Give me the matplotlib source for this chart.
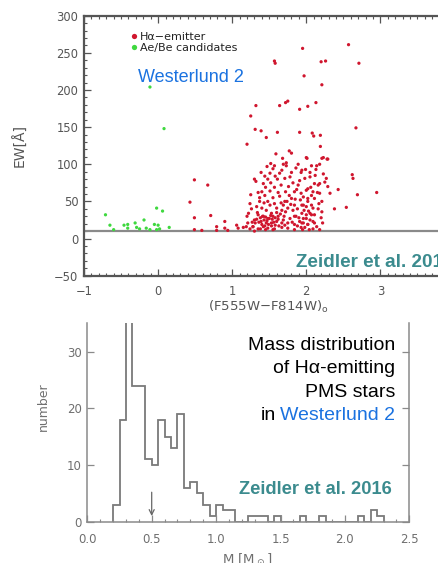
import numpy as np
import matplotlib
matplotlib.use("Agg")
import matplotlib.pyplot as plt
from matplotlib.lines import Line2D

# ---------------- data ----------------
# H-alpha emitters: colour (F555W-F814W)_0 and equivalent width [A]
ha_color = [
    2.57, 1.95, 2.71, 1.57, 1.58, 2.20, 2.26, 1.97, 2.21, 1.75, 1.72, 1.64, 1.91, 2.02, 2.13,
    1.32, 1.25, 2.67, 1.31, 1.39, 1.46, 1.61, 1.91, 2.08, 2.10, 2.19, 1.20, 2.19, 1.77, 1.80,
    1.59, 2.01, 2.21, 2.29,
    0.49, 0.67, 0.43, 0.49, 0.71, 0.49, 0.59, 0.79, 0.90, 0.79, 0.90, 0.94, 1.06, 1.08, 1.15,
    1.19, 1.24, 1.28, 1.30, 1.21, 1.20, 1.22, 1.24, 1.25, 1.30, 1.32, 1.39, 1.44, 1.51, 1.55,
    2.95, 2.69, 2.62, 2.63, 2.43, 2.54, 2.38,
    1.42, 1.45, 1.40, 1.44, 1.51, 1.57, 1.66, 1.71, 1.78, 1.67, 1.73, 1.80, 1.57, 1.69, 1.89,
    1.93, 1.98, 2.05, 1.89, 1.84, 1.93, 2.02, 2.07, 1.80, 1.71, 1.57, 1.48, 1.37, 1.33, 1.40,
    1.46, 1.53, 1.60, 1.67, 1.75, 1.84, 1.96, 2.02, 1.35, 1.42, 1.48, 1.55, 1.62, 1.69, 1.78,
    1.84, 1.91, 2.00, 2.07, 1.30, 1.39, 1.46, 1.53, 1.60, 1.67, 1.75, 1.84, 1.96, 2.02, 1.28,
    1.35, 1.42, 1.48, 1.57, 1.67, 1.75, 1.84, 1.93,
    2.00, 2.23, 2.28, 2.07, 2.14, 2.18, 1.94, 2.05, 2.23, 2.27, 2.25, 2.11, 2.16, 2.18, 2.29,
    2.00, 2.09, 2.18, 2.32, 1.96, 2.02, 2.11, 2.21, 2.21, 1.94, 2.00, 2.07, 2.09, 1.94, 2.00,
    2.05, 2.11, 1.96, 2.05, 2.09, 1.94, 2.02, 2.11, 2.09, 2.18, 1.98,
    1.38, 1.41, 1.43, 1.45, 1.47, 1.50, 1.52, 1.54, 1.56, 1.58, 1.36, 1.40, 1.44, 1.49, 1.53,
    1.58, 1.62, 1.65, 1.63, 1.70, 1.72, 1.69, 1.74, 1.77, 1.79, 1.82, 1.86, 1.88, 1.85, 1.87,
    1.82, 1.76, 1.72, 1.64, 1.61, 1.58, 1.52, 1.48, 1.35, 1.34, 1.33, 1.31, 1.27, 1.26, 1.37,
    1.43, 1.51, 1.55, 1.62, 1.66, 1.92, 1.97, 2.03, 2.06, 2.12, 2.15, 2.17, 2.20, 2.14, 2.22,
    2.16, 1.90, 1.81, 1.88, 1.71, 1.95, 2.04, 1.55, 1.45, 1.38, 1.60, 1.64, 1.91, 1.99, 2.13,
    1.86, 1.68, 1.73, 1.52, 1.47,
]
ha_ew = [
    261, 256, 236, 239, 236, 238, 239, 219, 207, 185, 183, 179, 174, 178, 183,
    179, 165, 149, 147, 145, 136, 143, 143, 142, 138, 139, 127, 124, 118, 115,
    114, 108, 108, 107,
    79, 72, 49, 28, 31, 12, 11, 16, 23, 11, 14, 11, 18, 14, 15,
    16, 13, 16, 10, 21, 30, 34, 47, 59, 80, 77, 89, 84, 88, 94,
    62, 59, 86, 81, 66, 42, 40,
    74, 69, 63, 58, 64, 69, 72, 81, 83, 92, 98, 89, 98, 100, 100,
    89, 81, 83, 72, 63, 61, 67, 58, 54, 50, 47, 50, 50, 43, 41,
    38, 34, 41, 38, 41, 45, 45, 50, 32, 30, 27, 30, 30, 25, 27,
    30, 23, 27, 32, 25, 23, 21, 21, 23, 21, 21, 19, 21, 19, 16,
    13, 16, 14, 13, 15, 14, 12, 15,
    109, 109, 107, 98, 98, 100, 92, 89, 87, 81, 76, 74, 72, 74, 70,
    65, 63, 61, 61, 56, 54, 54, 50, 36, 45, 43, 45, 41, 34, 32,
    34, 32, 27, 25, 23, 21, 19, 21, 13, 12, 15,
    28, 30, 25, 29, 24, 27, 31, 26, 22, 28, 22, 19, 17, 19, 17,
    18, 26, 33, 17, 30, 36, 45, 50, 58, 46, 38, 30, 40, 53, 66,
    75, 70, 63, 57, 80, 84, 75, 80, 62, 35, 26, 21, 22, 40, 55,
    48, 45, 55, 62, 48, 52, 38, 37, 69, 85, 62, 47, 28, 16, 21,
    40, 28, 22, 17, 18, 12, 12, 12, 12, 13, 35, 88, 78, 93, 93,
    95, 108, 102, 101, 97,
]

# Ae/Be candidates
aebe_color = [-0.71, -0.65, -0.60, -0.46, -0.41, -0.41, -0.31, -0.29, -0.25, -0.19, -0.16,
              -0.11, -0.05, -0.02, 0.00, 0.02, -0.02, 0.06, 0.15, -0.11, 0.08]
aebe_ew = [32, 18, 12, 18, 19, 14, 21, 15, 13, 25, 14,
           12, 19, 12, 18, 13, 41, 37, 15, 204, 148]

ew_threshold = 10

# Mass histogram of H-alpha emitting PMS stars (bin width 0.05 Msun from 0.20)
mass_bin_start = 0.20
mass_bin_width = 0.05
mass_counts = [3, 18, 40, 24, 24, 11, 10, 18, 15, 13, 19, 6, 7, 5, 3, 1, 3, 2, 2, 0, 0,
               1, 1, 1, 0, 1, 0, 0, 0, 1, 0, 0, 1, 0, 0, 0, 0, 0, 1, 0, 2, 1]
mass_marker = 0.5

# ---------------- figure ----------------
W, H = 438, 563
fig = plt.figure(figsize=(W / 100, H / 100), dpi=100)
fig.patch.set_facecolor("white")

def fx(px):
    return px / W

def fy(py):
    return 1 - py / H

BLUE = "#1a72e0"
TEAL = "#3b8b8e"
SANS = "Liberation Sans"

# ---- upper panel: EW vs colour ----
ax1 = fig.add_axes([fx(84), fy(275.7), 370.5 / W, 260 / H])
ax1.scatter(ha_color, ha_ew, s=5.5, color="#d0162e", edgecolors="none", zorder=3)
ax1.scatter(aebe_color, aebe_ew, s=5.5, color="#3fd83f", edgecolors="none", zorder=3)
ax1.axhline(ew_threshold, color="#8a8a8a", lw=1.6, zorder=2)
ax1.set_xlim(-1, 4)
ax1.set_ylim(-50, 300)
ax1.set_xticks([-1, 0, 1, 2, 3])
ax1.set_yticks(np.arange(-50, 301, 50))
ax1.set_xticks(np.arange(-1, 4.01, 0.1), minor=True)
ax1.set_yticks(np.arange(-50, 301, 10), minor=True)
ax1.set_xticklabels(["\u22121", "0", "1", "2", "3"])
ax1.set_yticklabels(["\u221250", "0", "50", "100", "150", "200", "250", "300"])
for sp in ax1.spines.values():
    sp.set_color("#555555")
    sp.set_linewidth(1.6)
ax1.tick_params(which="both", direction="in", top=True, right=True,
                color="#555555", labelcolor="#555555", labelsize=8.3)
ax1.tick_params(which="major", length=5, width=0.9)
ax1.tick_params(which="minor", length=2.5, width=0.8)
ax1.tick_params(axis="x", pad=7)
ax1.tick_params(axis="y", pad=4)
ax1.set_ylabel("EW[\u00c5]", fontsize=10, color="#555555")
ax1.yaxis.set_label_coords((27 - 84) / 370.5, 0.5)
ax1.set_xlabel(r"(F555W$-$F814W)$_\mathrm{o}$", fontsize=9.5, color="#555555")
ax1.xaxis.set_label_coords((268 - 84) / 370.5, (275.7 - 306.5) / 260)
ax1.xaxis.label.set_va("center")

handles = [Line2D([], [], ls="none", marker="o", ms=3.8, color="#d0162e", mec="none"),
           Line2D([], [], ls="none", marker="o", ms=3.8, color="#3fd83f", mec="none")]
ax1.legend(handles, ["H\u03b1\u2212emitter", "Ae/Be candidates"], loc="upper left",
           bbox_to_anchor=((131 - 84) / 370.5, (275.7 - 31.5) / 260), frameon=False,
           borderpad=0, borderaxespad=0, handlelength=0.5, handletextpad=0.3,
           labelspacing=0.15, prop={"size": 8}, labelcolor="#222222")

fig.text(fx(138), fy(81.7), "Westerlund 2", color=BLUE, fontsize=13, family=SANS,
         ha="left", va="baseline")
fig.text(fx(295.7), fy(266.7), "Zeidler et al. 2016", color=TEAL, fontsize=13.6,
         family=SANS, weight="bold", ha="left", va="baseline")

# ---- lower panel: mass histogram ----
edges = mass_bin_start + mass_bin_width * np.arange(len(mass_counts) + 1)
ax2 = fig.add_axes([fx(87.3), fy(521.7), 322 / W, 198.4 / H])
ax2.stairs(mass_counts, edges, baseline=0, color="#7a7a7a", lw=1.3)
ax2.annotate("", xy=(mass_marker, 1), xytext=(mass_marker, 5.2),
             arrowprops=dict(arrowstyle="->", color="#666666", lw=0.9,
                             shrinkA=0, shrinkB=0, mutation_scale=9))
ax2.set_xlim(0, 2.5)
ax2.set_ylim(0, 35)
ax2.set_xticks(np.arange(0, 2.51, 0.5))
ax2.set_xticks(np.arange(0, 2.51, 0.1), minor=True)
ax2.set_yticks([0, 10, 20, 30])
ax2.spines["top"].set_visible(False)
for name in ("left", "right", "bottom"):
    ax2.spines[name].set_color("#8a8a8a")
    ax2.spines[name].set_linewidth(1.1)
ax2.tick_params(which="both", direction="in", right=True, color="#8a8a8a",
                labelcolor="#6f6f6f", labelsize=8.5)
ax2.tick_params(which="major", length=5, width=0.9)
ax2.tick_params(which="minor", length=2.5, width=0.8)
ax2.tick_params(axis="x", pad=8)
ax2.tick_params(axis="y", pad=4)
ax2.set_ylabel("number", fontsize=9, color="#6f6f6f")
ax2.yaxis.set_label_coords((50 - 87.3) / 322, (521.7 - 406.7) / 198.4)
ax2.set_xlabel(r"M [M$_\odot$]", fontsize=9.5, color="#6f6f6f")
ax2.xaxis.set_label_coords((247 - 87.3) / 322, (521.7 - 560) / 198.4)
ax2.xaxis.label.set_va("center")

lines = [("Mass distribution", 350), ("of H\u03b1-emitting", 373.3), ("PMS stars", 396.7)]
for txt, base in lines:
    fig.text(fx(395), fy(base), txt, color="black", fontsize=14, family=SANS,
             ha="right", va="baseline")
fig.text(fx(395), fy(420), "Westerlund 2", color=BLUE, fontsize=14, family=SANS,
         ha="right", va="baseline")
fig.text(fx(276), fy(420), "in", color="black", fontsize=14, family=SANS,
         ha="right", va="baseline")
fig.text(fx(391.7), fy(494), "Zeidler et al. 2016", color=TEAL, fontsize=13.2, family=SANS,
         weight="bold", ha="right", va="baseline")

fig.savefig("out.png", dpi=100)
